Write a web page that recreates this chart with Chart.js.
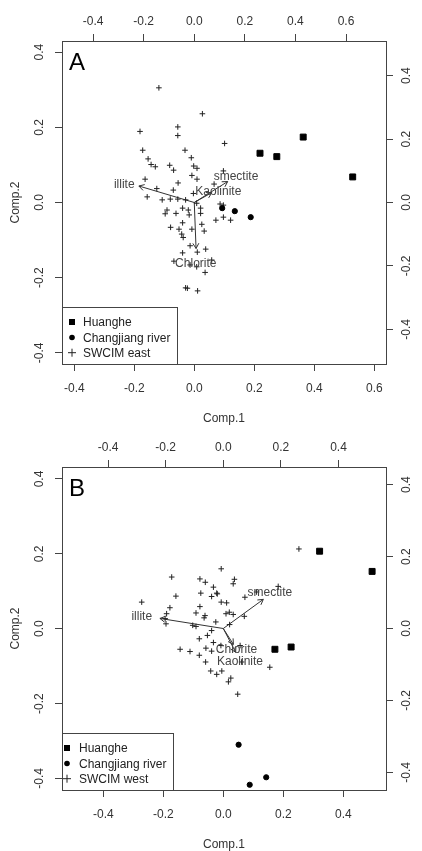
<!DOCTYPE html>
<html>
<head>
<meta charset="utf-8">
<script src="https://cdn.jsdelivr.net/npm/chart.js@4.4.1/dist/chart.umd.min.js"></script>
<style>
  html, body { margin: 0; padding: 0; background: #fff; }
  canvas { position: absolute; left: 0; }
  #chartA { top: 0; }
  #chartB { top: 426px; }
</style>
</head>
<body>
<canvas id="chartA" width="422" height="425"></canvas>
<canvas id="chartB" width="422" height="425"></canvas>
<script>
// ---- panel A data (scores on Comp.1 / Comp.2) ----
const huangheA = [[0.219, 0.131], [0.275, 0.122], [0.363, 0.174], [0.528, 0.068]];
const changjiangA = [[0.093, -0.015], [0.135, -0.023], [0.188, -0.039]];
const swcimEast = [
  [-0.118, 0.305], [0.027, 0.236], [-0.181, 0.189], [-0.055, 0.201], [-0.055, 0.178],
  [0.101, 0.157], [-0.172, 0.139], [-0.031, 0.139], [-0.154, 0.116], [-0.010, 0.119],
  [-0.144, 0.101], [-0.130, 0.095], [-0.082, 0.099], [-0.069, 0.086], [-0.002, 0.097],
  [0.009, 0.091], [0.097, 0.084], [-0.164, 0.062], [-0.054, 0.052], [-0.008, 0.072],
  [0.009, 0.062], [0.066, 0.049], [-0.125, 0.037], [-0.070, 0.033], [-0.157, 0.015],
  [-0.107, 0.007], [-0.080, 0.009], [-0.055, 0.009], [-0.029, 0.007], [-0.003, 0.024],
  [0.086, -0.004], [0.097, -0.007], [0.021, -0.015], [0.021, -0.029], [-0.091, -0.020],
  [-0.097, -0.030], [-0.061, -0.029], [-0.039, -0.015], [-0.020, -0.020], [-0.017, -0.033],
  [-0.039, -0.054], [0.025, -0.058], [-0.079, -0.066], [-0.051, -0.071], [-0.042, -0.084],
  [-0.037, -0.093], [-0.008, -0.071], [0.033, -0.076], [0.072, -0.047], [0.121, -0.047],
  [0.097, -0.039], [-0.014, -0.115], [0.010, -0.132], [0.038, -0.124], [-0.039, -0.134],
  [-0.068, -0.156], [-0.014, -0.166], [0.008, -0.171], [0.036, -0.186], [-0.023, -0.228],
  [0.011, -0.235], [-0.029, -0.227], [0.058, -0.153], [0.008, -0.002]
];
// loadings (top / right axes): arrow tips and label positions
const varNamesA = ['illite', 'smectite', 'Kaolinite', 'Chlorite'];
const arrowTipsA = [[-0.219, 0.052], [0.132, 0.066], [0.069, 0.031], [0.007, -0.145]];
const labelPosA = [[-0.277, 0.057], [0.165, 0.080], [0.095, 0.034], [0.006, -0.192]];

// ---- panel B data ----
const huangheB = [[0.321, 0.207], [0.496, 0.153], [0.172, -0.055], [0.226, -0.049]];
const changjiangB = [[0.051, -0.310], [0.143, -0.397], [0.088, -0.417]];
const swcimWest = [
  [0.252, 0.213], [-0.007, 0.160], [-0.172, 0.138], [-0.078, 0.133], [-0.060, 0.124],
  [-0.033, 0.111], [-0.022, 0.095], [0.037, 0.132], [0.033, 0.120], [-0.158, 0.087],
  [-0.075, 0.095], [-0.039, 0.086], [0.072, 0.084], [0.111, 0.098], [0.183, 0.113],
  [-0.272, 0.071], [-0.178, 0.056], [-0.078, 0.059], [-0.007, 0.071], [0.011, 0.069],
  [-0.020, 0.093], [-0.189, 0.040], [-0.194, 0.027], [-0.191, 0.013], [-0.091, 0.042],
  [-0.061, 0.035], [-0.064, 0.029], [0.009, 0.040], [0.020, 0.044], [0.033, 0.038],
  [0.070, 0.033], [-0.025, 0.018], [-0.102, 0.009], [-0.091, 0.006], [-0.053, -0.018],
  [-0.039, -0.005], [-0.080, -0.027], [0.021, 0.011], [-0.033, -0.037], [-0.008, -0.045],
  [-0.144, -0.055], [-0.111, -0.061], [-0.058, -0.052], [-0.039, -0.060], [-0.080, -0.071],
  [-0.059, -0.089], [0.056, -0.045], [0.155, -0.103], [-0.042, -0.113], [-0.022, -0.122],
  [-0.005, -0.113], [0.025, -0.132], [0.017, -0.142], [0.048, -0.175], [0.061, -0.089]
];
const varNamesB = ['illite', 'smectite', 'Chlorite', 'Kaolinite'];
const arrowTipsB = [[-0.220, 0.028], [0.139, 0.081], [0.035, -0.044], [0.043, -0.066]];
const labelPosB = [[-0.283, 0.032], [0.162, 0.100], [0.046, -0.058], [0.058, -0.093]];

const FONT = '"Liberation Sans", Arial, sans-serif';
const fmt = v => (Math.abs(v) < 1e-9 ? 0 : v).toFixed(1);
const pts = arr => arr.map(p => ({ x: p[0], y: p[1] }));

function makeScale(pos, min, max, size, extra) {
  const horiz = pos === 'top' || pos === 'bottom';
  return Object.assign({
    type: 'linear', position: pos, min: min, max: max,
    ticks: {
      stepSize: 0.2, includeBounds: false, autoSkip: false, maxRotation: 0,
      display: horiz, padding: pos === 'top' ? 5 : 10, color: '#333',
      font: { family: FONT, size: 12 }, callback: v => fmt(v)
    },
    grid: { drawOnChartArea: false, drawTicks: true, tickLength: 7, tickColor: '#444', tickWidth: 1 },
    border: { display: true, color: '#444', width: 1 },
    afterFit(s) { if (horiz) s.height = size; else s.width = size; }
  }, extra || {});
}

const biplot = {
  id: 'biplot',
  afterDatasetsDraw(chart, args, o) {
    const ctx = chart.ctx;
    const sx = chart.scales.x2, sy = chart.scales.y2;
    ctx.save();
    ctx.strokeStyle = '#333';
    ctx.lineWidth = 1;
    const x0 = sx.getPixelForValue(0), y0 = sy.getPixelForValue(0);
    o.tips.forEach(t => {
      const x1 = sx.getPixelForValue(t[0]), y1 = sy.getPixelForValue(t[1]);
      const a = Math.atan2(y1 - y0, x1 - x0);
      ctx.beginPath();
      ctx.moveTo(x1 - 6 * Math.cos(a - Math.PI / 6), y1 - 6 * Math.sin(a - Math.PI / 6));
      ctx.lineTo(x1, y1);
      ctx.lineTo(x1 - 6 * Math.cos(a + Math.PI / 6), y1 - 6 * Math.sin(a + Math.PI / 6));
      ctx.stroke();
    });
    ctx.fillStyle = '#444';
    ctx.font = '12px ' + FONT;
    ctx.textAlign = 'center';
    ctx.textBaseline = 'middle';
    o.names.forEach((n, i) => {
      ctx.fillText(n, sx.getPixelForValue(o.labels[i][0]), sy.getPixelForValue(o.labels[i][1]));
    });
    ctx.restore();
  },
  afterDraw(chart, args, o) {
    const ctx = chart.ctx;
    const area = chart.chartArea;
    ctx.save();
    // y tick labels, rotated like R
    ctx.font = '12px ' + FONT;
    ctx.fillStyle = '#333';
    ctx.textAlign = 'center';
    ctx.textBaseline = 'middle';
    [['y', area.left - 22], ['y2', area.right + 21]].forEach(([id, x]) => {
      const sc = chart.scales[id];
      sc.ticks.forEach(t => {
        ctx.save();
        ctx.translate(x, sc.getPixelForValue(t.value));
        ctx.rotate(-Math.PI / 2);
        ctx.fillText(fmt(t.value), 0, 0);
        ctx.restore();
      });
    });
    // panel letter
    ctx.fillStyle = '#000';
    ctx.font = '24px ' + FONT;
    ctx.fillText(o.letter, area.left + 15, area.top + 22);
    // legend box
    const L = o.legend;
    ctx.strokeStyle = '#444';
    ctx.lineWidth = 1;
    ctx.fillStyle = '#fff';
    ctx.fillRect(area.left, area.bottom - 57, L.width, 57);
    ctx.strokeRect(area.left + 0.5, area.bottom - 57 + 0.5, L.width, 57);
    ctx.font = '12px ' + FONT;
    ctx.textAlign = 'left';
    const rows = [area.bottom - 42, area.bottom - 26.5, area.bottom - 11.3];
    L.texts.forEach((txt, i) => {
      const y = rows[i], x = area.left + L.symX;
      ctx.fillStyle = '#000';
      ctx.strokeStyle = '#222';
      if (i === 0) ctx.fillRect(x - 3, y - 3, 6, 6);
      else if (i === 1) { ctx.beginPath(); ctx.arc(x, y, 2.8, 0, Math.PI * 2); ctx.fill(); }
      else { ctx.beginPath(); ctx.moveTo(x - 4, y); ctx.lineTo(x + 4, y); ctx.moveTo(x, y - 4); ctx.lineTo(x, y + 4); ctx.stroke(); }
      ctx.fillStyle = '#222';
      ctx.fillText(txt, area.left + L.textX, y + 1);
    });
    ctx.restore();
  }
};

function makeChart(id, cfg) {
  const arrowSets = cfg.tips.map(t => ({
    type: 'scatter', showLine: true, data: [{ x: 0, y: 0 }, { x: t[0], y: t[1] }],
    xAxisID: 'x2', yAxisID: 'y2', borderColor: '#333', borderWidth: 1, pointRadius: 0
  }));
  return new Chart(document.getElementById(id), {
    type: 'scatter',
    data: {
      datasets: [
        { label: cfg.legend.texts[0], data: pts(cfg.huanghe), pointStyle: 'rect', pointRadius: 4.2,
          backgroundColor: '#000', borderColor: '#000', borderWidth: 1 },
        { label: cfg.legend.texts[1], data: pts(cfg.changjiang), pointStyle: 'circle', pointRadius: 2.6,
          backgroundColor: '#000', borderColor: '#000', borderWidth: 1 },
        { label: cfg.legend.texts[2], data: pts(cfg.swcim), pointStyle: 'cross', pointRadius: 2.8,
          borderColor: '#222', borderWidth: 1 }
      ].concat(arrowSets)
    },
    options: {
      responsive: false, animation: false, devicePixelRatio: 1, events: [],
      layout: { padding: 0 },
      plugins: {
        legend: { display: false }, tooltip: { enabled: false },
        biplot: { tips: cfg.tips, names: cfg.names, labels: cfg.labels, letter: cfg.letter, legend: cfg.legend }
      },
      scales: {
        x: makeScale('bottom', cfg.xr[0], cfg.xr[1], 61, {
          title: { display: true, text: 'Comp.1', color: '#333', font: { family: FONT, size: 12 }, padding: { top: 0, bottom: -1 } }
        }),
        x2: makeScale('top', cfg.x2r[0], cfg.x2r[1], 41),
        y: makeScale('left', cfg.yr[0], cfg.yr[1], 62, {
          title: { display: true, text: 'Comp.2', color: '#333', font: { family: FONT, size: 12 }, padding: { top: 8, bottom: 0 } }
        }),
        y2: makeScale('right', cfg.y2r[0], cfg.y2r[1], 36)
      }
    },
    plugins: [biplot]
  });
}

makeChart('chartA', {
  huanghe: huangheA, changjiang: changjiangA, swcim: swcimEast,
  tips: arrowTipsA, names: varNamesA, labels: labelPosA, letter: 'A',
  xr: [-0.441, 0.639], x2r: [-0.523, 0.758], yr: [-0.4295, 0.4295], y2r: [-0.509, 0.509],
  legend: { texts: ['Huanghe', 'Changjiang river', 'SWCIM east'], width: 115, symX: 10, textX: 21 }
});

makeChart('chartB', {
  huanghe: huangheB, changjiang: changjiangB, swcim: swcimWest,
  tips: arrowTipsB, names: varNamesB, labels: labelPosB, letter: 'B',
  xr: [-0.5377, 0.5423], x2r: [-0.560, 0.565], yr: [-0.431, 0.432], y2r: [-0.449, 0.449],
  legend: { texts: ['Huanghe', 'Changjiang river', 'SWCIM west'], width: 111, symX: 5, textX: 17 }
});
</script>
</body>
</html>
